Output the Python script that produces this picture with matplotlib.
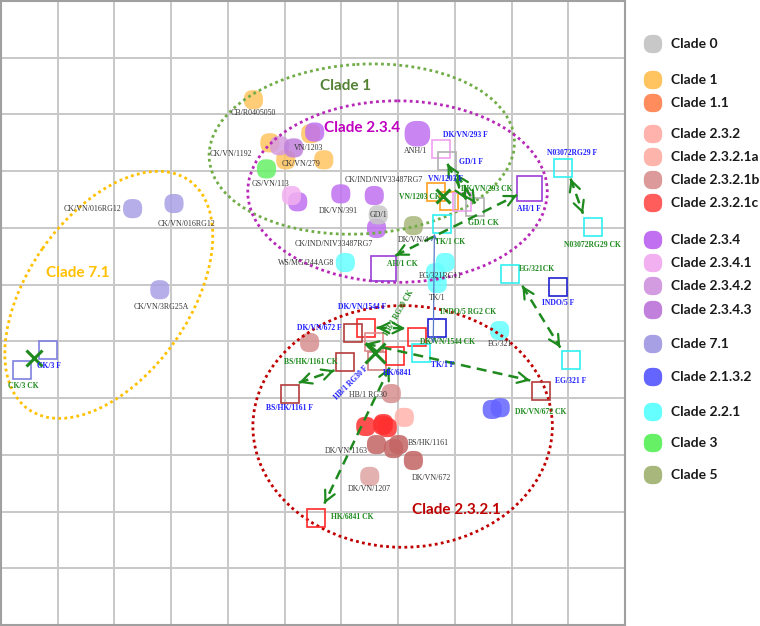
import numpy as np
import matplotlib
matplotlib.use('Agg')
import matplotlib.pyplot as plt
from matplotlib.patches import Ellipse
from matplotlib.path import Path

# ---- legend clades ----
clades = ['Clade 0', 'Clade 1', 'Clade 1.1', 'Clade 2.3.2', 'Clade 2.3.2.1a', 'Clade 2.3.2.1b',
          'Clade 2.3.2.1c', 'Clade 2.3.4', 'Clade 2.3.4.1', 'Clade 2.3.4.2', 'Clade 2.3.4.3',
          'Clade 7.1', 'Clade 2.1.3.2', 'Clade 2.2.1', 'Clade 3', 'Clade 5']
clade_colors = ['#c8c8c8', '#ffc35f', '#ff8c5c', '#ffb3ac', '#fdb4ab', '#dc9a9a',
                '#ff5c5c', '#c070f0', '#f2b0f0', '#d49ce0', '#c080dc',
                '#a8a0e4', '#6464ff', '#66ffff', '#66f066', '#a8b87c']
legend_y = [44, 80, 103, 134, 157, 180, 203, 240, 263, 286, 310, 344, 377, 412, 443, 475]

# ---- antigens (filled blobs), map units ----
ag_x = [4.45, 4.74, 5.46, 5.02, 5.69, 4.91, 5.16, 5.53, 5.23, 5.99, 6.58, 6.62, 7.34, 5.12,
        4.68, 6.65, 7.27, 6.07, 7.83, 7.66, 7.69, 8.79, 2.32, 3.05, 2.80, 8.66, 8.80, 5.44,
        6.88, 7.11, 6.43, 6.73, 6.81, 6.74, 6.62, 6.92, 7.01, 7.27, 6.50]
ag_y = [1.74, 2.50, 2.34, 2.80, 2.80, 2.55, 2.59, 2.31, 3.54, 3.40, 3.43, 4.01, 2.34, 3.43,
        2.96, 3.77, 3.96, 4.61, 4.61, 4.79, 4.98, 5.81, 3.66, 3.57, 5.09, 7.20, 7.17, 6.02,
        6.92, 7.34, 7.50, 7.48, 7.52, 7.45, 7.82, 7.89, 7.82, 8.10, 8.38]
ag_color = ['#ffc35f'] * 5 + ['#d49ce0', '#c080dc'] + ['#c070f0'] * 6 + ['#f2b0f0', '#66f066',
            '#c8c8c8', '#a8b87c'] + ['#66ffff'] * 5 + ['#a8a0e4'] * 3 + ['#6464ff'] * 2 + \
           ['#d89090', '#d89090', '#ffb3ac'] + ['#ff3030'] * 4 + ['#c46464'] * 4 + ['#e0a4a4']
ag_big = [12]  # ANH/1

ag_labels = ['CB/R0405050', 'CK/VN/1192', 'VN/1203', 'CK/VN/279', 'GS/VN/113', 'CK/IND/NIV33487RG7',
             'DK/VN/391', 'GD/1', 'CK/IND/NIV33487RG7', 'ANH/1', 'DK/VN/4', 'WS/MG/244AG8',
             'EG/321RG11', 'TK/1', 'EG/321', 'HB/1 RG30', 'BS/HK/1161', 'DK/VN/1163', 'DK/VN/672',
             'DK/VN/1207', 'CK/VN/016RG12', 'CK/VN/016RG12', 'CK/VN/3RG25A']
ag_lx = [4.45, 4.05, 5.42, 5.28, 4.75, 6.74, 5.95, 6.65, 5.86, 7.31, 7.27, 5.37,
         7.75, 7.69, 8.80, 6.46, 7.54, 6.09, 7.59, 6.50, 1.62, 3.27, 2.82]
ag_ly = [1.97, 2.69, 2.59, 2.87, 3.22, 3.15, 3.70, 3.77, 4.28, 2.64, 4.21, 4.61,
         4.84, 5.23, 6.04, 6.94, 7.80, 7.94, 8.40, 8.61, 3.66, 3.93, 5.39]

# ---- sera (open squares) ----
sr_x = [0.83, 0.37, 6.73, 9.30, 7.75, 7.87, 7.66, 7.89, 8.13, 8.35, 9.91, 10.44, 7.78, 8.98,
        9.82, 7.69, 7.34, 7.41, 6.44, 6.21, 6.57, 6.62, 6.95, 6.06, 5.09, 9.52, 10.04, 5.56]
sr_y = [6.16, 6.50, 4.70, 3.29, 2.61, 2.82, 3.36, 3.52, 3.54, 3.63, 2.94, 3.98, 3.93, 4.81,
        5.05, 5.76, 5.93, 6.21, 5.77, 5.86, 6.02, 6.34, 6.25, 6.36, 6.92, 6.88, 6.32, 9.12]
sr_color = ['#8080e0', '#8080e0', '#9a3dd6', '#9a3dd6', '#f0a0f0', '#b0b0b0', '#ffa020', '#ffa020',
            '#f0a0f0', '#b0b0b0', '#30f0f0', '#30f0f0', '#30f0f0', '#30f0f0', '#2020d0', '#2020d0',
            '#ff2a2a', '#30f0f0', '#ff2a2a', '#b43c3c', '#e08a8a', '#d08080', '#ff2a2a', '#b43c3c',
            '#b43c3c', '#b43c3c', '#30f0f0', '#ff2a2a']
sr_big = [2, 3]  # AH/1 CK, AH/1 F

sr_labels = ['CK/3 F', 'CK/3 CK', 'AH/1 CK', 'AH/1 F', 'DK/VN/293 F', 'GD/1 F', 'VN/1203 F',
             'VN/1203 CK', 'DK/VN/293 CK', 'GD/1 CK', 'N03072RG29 F', 'N03072RG29 CK', 'TK/1 CK',
             'EG/321CK', 'INDO/5 F', 'INDO/5 RG2 CK', 'DK/VN/1544 CK', 'TK/1 F', 'DK/VN/1544 F',
             'DK/VN/672 F', 'HK/6841', 'BS/HK/1161 CK', 'BS/HK/1161 F', 'DK/VN/672 CK', 'EG/321 F',
             'HK/6841 CK']
sr_lx = [0.85, 0.40, 7.08, 9.30, 8.19, 8.29, 7.83, 7.39, 8.57, 8.50, 10.07, 10.42, 7.92,
         9.45, 9.82, 8.24, 7.87, 7.78, 6.37, 5.62, 6.99, 5.46, 5.09, 9.52, 10.04, 6.20]
sr_ly = [6.44, 6.78, 4.63, 3.66, 2.36, 2.83, 3.13, 3.45, 3.31, 3.91, 2.68, 4.30, 4.24,
         4.72, 5.33, 5.48, 6.02, 6.41, 5.40, 5.77, 6.55, 6.37, 7.17, 7.24, 6.69, 9.10]
# rotated labels: text, x, y, angle, is_ferret
rot_labels = [('HB/1 RG30 F', 6.18, 6.74, 45, True), ('HB/1 RG30 CK', 7.02, 5.49, 60, False)]

# ---- arrows between paired sera (x0, y0, x1, y1) ----
arrows = [(5.25, 6.73, 5.88, 6.51), (6.43, 6.04, 9.33, 6.69), (6.62, 5.76, 7.13, 5.77),
          (6.85, 6.46, 5.70, 8.86), (6.95, 4.49, 9.10, 3.42), (7.87, 2.87, 8.20, 3.50),
          (8.03, 3.05, 8.36, 3.57), (10.04, 3.13, 10.26, 3.75), (9.19, 5.02, 9.86, 6.11)]
tk_line = (7.64, 4.10, 7.62, 6.04)
cross_x = [0.58, 7.80, 6.60]
cross_y = [6.30, 3.43, 6.20]
cross_size = [11, 10, 15]

# ---- clade ellipses: cx, cy, width, height, angle, colour, label, lx, ly, text colour ----
ellipses = [(6.36, 2.61, 5.39, 2.99, -3.5, '#70ad47', 'Clade 1', 6.07, 1.50, '#548235'),
            (6.99, 3.36, 5.28, 3.20, 0, '#b828b8', 'Clade 2.3.4', 6.37, 2.24, '#c000c0'),
            (1.90, 5.18, 4.93, 2.85, -55, '#ffc000', 'Clade 7.1', 1.36, 4.79, '#ffc000'),
            (7.08, 7.50, 5.28, 4.26, 0, '#c00000', 'Clade 2.3.2.1', 8.03, 8.98, '#c00000')]

GREEN = '#1e8a1e'
BLUE = '#1f1fff'
SERIF = 'Liberation Serif'
SANS = 'Lato'

# softly rounded blob marker like the original map
t = np.linspace(0, 2 * np.pi, 80)
blob = Path(np.column_stack([np.sign(np.cos(t)) * np.abs(np.cos(t)) ** 0.78,
                             np.sign(np.sin(t)) * np.abs(np.sin(t)) ** 0.78]), closed=True)

fig = plt.figure(figsize=(7.6, 6.26), dpi=100)
ax = fig.add_axes([1 / 760, 1 / 626, 624 / 760, 624 / 626])
ax.set_xlim(0, 11)
ax.set_ylim(11, 0)
ax.set_xticks(range(12))
ax.set_yticks(range(12))
ax.tick_params(length=0, labelbottom=False, labelleft=False)
ax.grid(True, color='#c8c8c8', lw=1.4)
ax.set_axisbelow(True)
for sp in ax.spines.values():
    sp.set_color('#a0a0a0')
    sp.set_linewidth(1.5)

# antigens
sizes = [340 if i in ag_big else 190 for i in range(len(ag_x))]
ax.scatter(ag_x, ag_y, s=sizes, c=ag_color, marker=blob, alpha=0.85, edgecolors='none', zorder=2)

# ellipses and clade names
for cx, cy, w, h, ang, col, lab, lx, ly, tcol in ellipses:
    ax.add_patch(Ellipse((cx, cy), w, h, angle=ang, fill=False, edgecolor=col, lw=2,
                         ls=(0, (1, 1.2)), zorder=3))
    ax.text(lx, ly, lab, color=tcol, fontsize=11, fontweight='bold', family=SANS,
            ha='center', va='center', zorder=8)

# sera
for i in range(len(sr_x)):
    ms = 18 if i in sr_big else 13.5
    ax.plot(sr_x[i], sr_y[i], marker='s', ms=ms, mfc='none', mec=sr_color[i], mew=1.2, zorder=4)


def double_arrow(x0, y0, x1, y1):
    ax.plot([x0, x1], [y0, y1], ls=(0, (4, 2.5)), lw=1.8, color=GREEN, zorder=6)
    for xa, ya, xb, yb in [(x0, y0, x1, y1), (x1, y1, x0, y0)]:
        dx, dy = xa - xb, ya - yb
        n = np.hypot(dx, dy)
        ax.annotate('', xy=(xa, ya), xytext=(xa - 0.06 * dx / n, ya - 0.06 * dy / n),
                    arrowprops=dict(arrowstyle='->,head_length=0.75,head_width=0.38',
                                    color=GREEN, lw=1.6, shrinkA=0, shrinkB=0), zorder=6)


for a in arrows:
    double_arrow(*a)

ax.annotate('', xy=tk_line[2:], xytext=tk_line[:2],
            arrowprops=dict(arrowstyle='<->,head_length=0.4,head_width=0.2', color='#5a78c8',
                            lw=0.9, shrinkA=0, shrinkB=0), zorder=5)

for x, y, s in zip(cross_x, cross_y, cross_size):
    ax.plot(x, y, marker='x', ms=s, mew=2.2, color=GREEN, zorder=7)

# labels
for txt, x, y in zip(ag_labels, ag_lx, ag_ly):
    ax.text(x, y, txt, fontsize=5.7, family=SERIF, color='#333333', ha='center', va='center', zorder=9)
for txt, x, y in zip(sr_labels, sr_lx, sr_ly):
    col = GREEN if txt.endswith('CK') else BLUE
    ax.text(x, y, txt, fontsize=5.5, family=SERIF, fontweight='bold', color=col,
            ha='center', va='center', zorder=9)
for txt, x, y, r, fer in rot_labels:
    ax.text(x, y, txt, fontsize=5.5, family=SERIF, fontweight='bold', color=BLUE if fer else GREEN,
            rotation=r, ha='center', va='center', rotation_mode='anchor', zorder=9)

# legend panel
lax = fig.add_axes([630 / 760, 0, 130 / 760, 1])
lax.set_xlim(630, 760)
lax.set_ylim(626, 0)
lax.axis('off')
lax.scatter([653] * len(clades), legend_y, s=175, c=clade_colors, marker=blob, edgecolors='none')
for name, y in zip(clades, legend_y):
    lax.text(671, y, name, fontsize=10, fontweight='bold', family=SANS, color='#1a1a1a', va='center')

fig.savefig('out.png', dpi=100)
